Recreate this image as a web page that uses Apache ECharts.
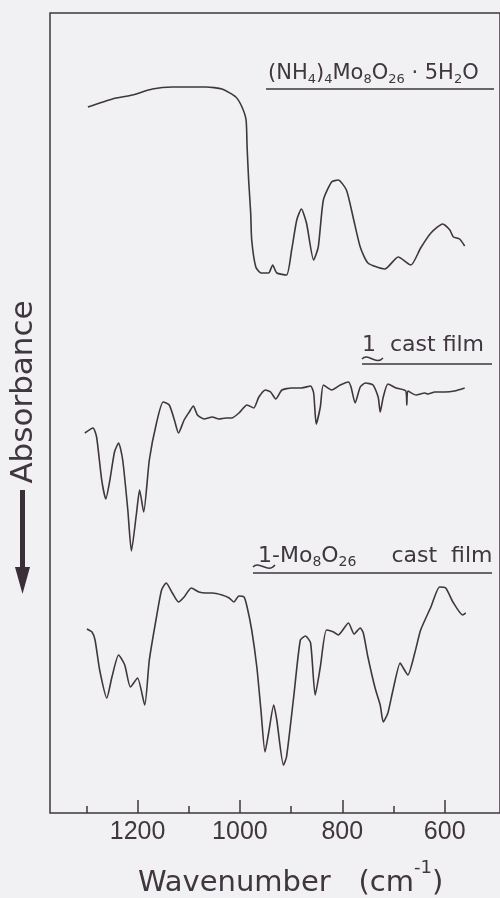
<!DOCTYPE html>
<html>
<head>
<meta charset="utf-8">
<script src="https://cdn.jsdelivr.net/npm/echarts@6/dist/echarts.min.js"></script>
<style>
html,body{margin:0;padding:0;background:#f1f0f2;}
#c{width:500px;height:898px;}
</style>
</head>
<body>
<div id="c"></div>
<script>
// Wavenumber (cm-1) and relative absorbance-trace values (arbitrary, offset traces)
const wnA  = [1297,1249,1210,1171,1132,1066,1035,1008,996,988,986,983,979,977,969,959,944,936,928,909,899,889,880,870,856,847,837,821,808,792,779,765,750,717,691,666,647,627,604,590,583,571,561];
const valA = [706,714,718,724,726,726,724,716,706,693,666,633,600,573,546,540,540,548,540,538,563,593,604,590,553,566,613,631,633,623,596,566,550,544,556,548,565,580,589,583,576,574,567];

const wnB  = [1303,1287,1280,1270,1262,1254,1245,1237,1229,1219,1212,1202,1196,1188,1177,1163,1150,1138,1128,1120,1109,1099,1091,1083,1070,1054,1041,1027,1016,1002,986,973,963,950,940,930,918,899,880,862,856,851,843,837,821,804,788,783,775,765,755,740,730,726,720,711,695,676,674,672,656,639,633,619,600,581,561];
const valB = [380,385,376,333,314,333,361,370,353,303,262,300,323,301,353,390,411,408,393,380,393,401,407,398,394,396,394,395,395,400,408,405,416,423,421,414,423,425,425,427,420,389,406,428,423,428,431,426,410,426,430,428,416,401,416,429,425,422,408,422,418,420,419,421,421,422,425];

const wnC  = [1299,1289,1283,1274,1260,1250,1237,1225,1214,1200,1186,1177,1163,1153,1144,1132,1120,1109,1095,1080,1066,1054,1035,1021,1012,1002,992,986,977,967,959,951,944,934,928,915,909,895,882,872,862,853,843,831,817,808,788,777,765,759,750,736,726,720,711,701,687,682,672,658,647,627,610,598,584,565,559];
const valC = [184,181,173,143,115,136,158,148,126,135,108,153,196,223,230,220,211,216,225,221,220,220,218,215,211,217,216,206,183,146,103,61,80,108,93,48,56,116,173,177,170,118,146,183,181,178,190,179,185,180,156,125,108,91,100,123,150,146,138,161,183,206,226,225,211,198,200];

const majorTicks = [600,800,1000,1200];
const minorTicks = [700,900,1100,1300];

const INK = '#3f363e';
const FONT = '"DejaVu Sans", sans-serif';
const pairs = (w, v) => w.map((x, i) => [x, v[i]]);

const chart = echarts.init(document.getElementById('c'));
const lineSeries = (w, v) => ({
  type: 'line', data: pairs(w, v), showSymbol: false, smooth: 0.2,
  lineStyle: {color: INK, width: 1.6}, xAxisIndex: 0, yAxisIndex: 0
});

chart.setOption({
  animation: false,
  backgroundColor: '#f1f0f2',
  grid: {left: 50, right: -3, top: 13, bottom: 85, show: true, borderColor: INK, borderWidth: 1.5, backgroundColor: 'transparent'},
  xAxis: [
    {type: 'value', inverse: true, min: 492, max: 1371, position: 'bottom',
     axisLine: {show: false}, splitLine: {show: false},
     axisTick: {show: true, inside: true, length: 13, customValues: majorTicks, lineStyle: {color: INK, width: 1.5}},
     axisLabel: {customValues: majorTicks, fontSize: 25, color: INK, margin: 7, fontFamily: '"Liberation Sans", Arial, sans-serif',
                 formatter: v => String(v)}},
    {type: 'value', inverse: true, min: 492, max: 1371, position: 'bottom', offset: 0,
     axisLine: {show: false}, splitLine: {show: false},
     axisTick: {show: true, inside: true, length: 7, customValues: minorTicks, lineStyle: {color: INK, width: 1.5}},
     axisLabel: {show: false}}
  ],
  yAxis: {type: 'value', min: 0, max: 800, show: false},
  series: [lineSeries(wnA, valA), lineSeries(wnB, valB), lineSeries(wnC, valC)],
  graphic: [
    // spectrum labels
    {type: 'text', x: 268, y: 74, style: {
      text: '(NH{s|4}){s|4}Mo{s|8}O{s|26} · 5H{s|2}O', fill: INK, font: '21px ' + FONT, verticalAlign: 'middle',
      rich: {s: {fontSize: 13, fontFamily: 'DejaVu Sans', fill: INK, padding: [12, 0, 0, 0]}}}},
    {type: 'line', shape: {x1: 266, y1: 89, x2: 494, y2: 89}, style: {stroke: INK, lineWidth: 1.5}},

    {type: 'text', x: 362, y: 345, style: {text: '1  cast film', fill: INK, font: '22px ' + FONT, verticalAlign: 'middle'}},
    {type: 'bezierCurve', shape: {x1: 362, y1: 359, cpx1: 368, cpy1: 352, cpx2: 376, cpy2: 366, x2: 383, y2: 358}, style: {stroke: INK, lineWidth: 1.5, fill: null}},
    {type: 'line', shape: {x1: 362, y1: 364, x2: 492, y2: 364}, style: {stroke: INK, lineWidth: 1.5}},

    {type: 'text', x: 258, y: 556, style: {
      text: '1-Mo{s|8}O{s|26}     cast  film', fill: INK, font: '22px ' + FONT, verticalAlign: 'middle',
      rich: {s: {fontSize: 14, fontFamily: 'DejaVu Sans', fill: INK, padding: [12, 0, 0, 0]}}}},
    {type: 'bezierCurve', shape: {x1: 253, y1: 567, cpx1: 259, cpy1: 560, cpx2: 268, cpy2: 574, x2: 275, y2: 565}, style: {stroke: INK, lineWidth: 1.5, fill: null}},
    {type: 'line', shape: {x1: 253, y1: 573, x2: 492, y2: 573}, style: {stroke: INK, lineWidth: 1.5}},

    // y-axis label with arrow
    {type: 'text', x: 24, y: 392, rotation: Math.PI / 2, style: {text: 'Absorbance', fill: INK, font: '31px ' + FONT, align: 'center', verticalAlign: 'middle'}},
    {type: 'rect', shape: {x: 20, y: 490, width: 5, height: 82}, style: {fill: '#3a2f38'}},
    {type: 'polygon', shape: {points: [[15, 567], [30, 567], [22.5, 594]]}, style: {fill: '#3a2f38'}},

    // x-axis title
    {type: 'text', x: 138, y: 883, style: {
      text: 'Wavenumber   (cm{p|-1})', fill: INK, font: '29px ' + FONT, verticalAlign: 'middle',
      rich: {p: {fontSize: 18, fontFamily: 'DejaVu Sans', fill: INK, padding: [0, 0, 30, 0]}}}}
  ]
});
</script>
</body>
</html>
